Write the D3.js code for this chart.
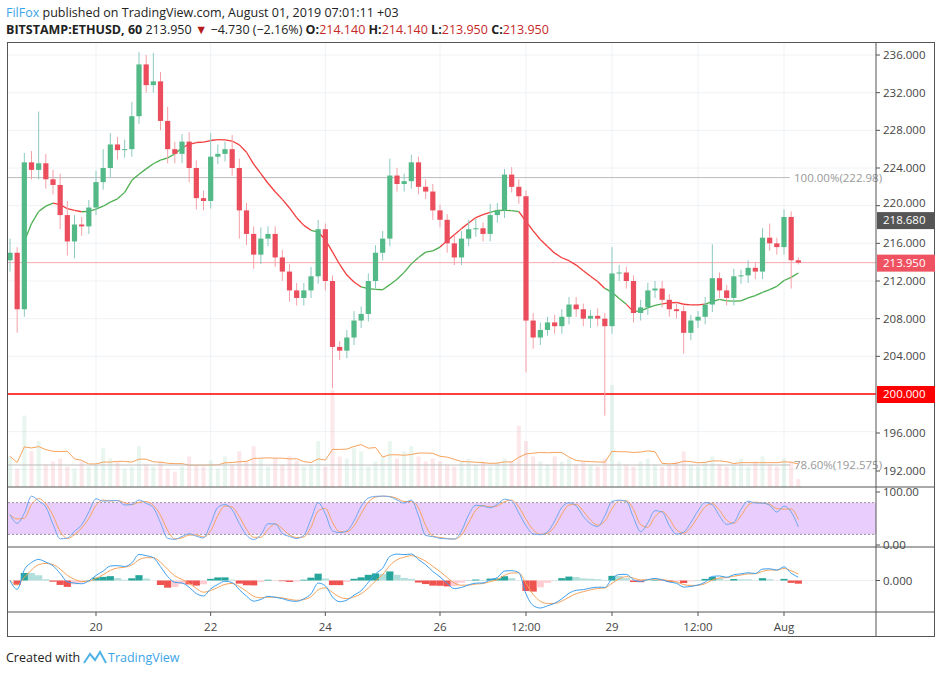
<!DOCTYPE html>
<html><head><meta charset="utf-8">
<script src="https://cdn.jsdelivr.net/npm/d3@7"></script>
<style>body{margin:0;background:#fff;font-family:"Open Sans","Liberation Sans",sans-serif}</style>
</head><body><svg id="c" width="939" height="675"></svg>
<script>
// ---- data (3-hour candles) ----
const startTime = "2019-07-18T12:00:00";
const closes = [215.0,209.0,224.6,223.8,224.5,222.8,222.2,219.0,216.2,218.0,217.8,219.8,222.5,224.0,226.5,225.9,226.0,229.5,235.0,232.8,233.2,229.0,226.0,225.5,226.8,224.0,220.8,220.5,225.2,225.5,226.0,224.0,219.5,217.0,214.8,216.5,217.0,214.5,213.0,211.0,210.2,211.0,212.5,217.5,212.0,205.0,204.6,206.0,207.8,208.5,212.0,215.0,216.5,223.2,222.3,222.6,224.6,222.0,221.5,219.5,218.5,216.0,214.5,216.5,217.5,217.6,217.0,219.0,219.5,223.3,222.0,221.0,207.8,206.0,206.8,207.6,207.2,208.2,209.5,209.0,208.0,208.3,208.0,207.2,212.8,212.9,212.0,208.6,209.2,211.0,211.2,210.0,209.0,208.8,206.5,207.8,208.2,209.5,212.3,211.0,210.2,212.5,212.6,213.4,213.0,216.6,216.0,215.6,218.8,214.2,213.95];
const firstOpen = 214.2;
const wickUp = [1.5,0.6,1.0,1.2,5.5,1.0,1.0,1.2,1.5,1.0,0.8,0.8,1.2,2.0,1.2,0.8,1.0,1.5,1.3,1.0,3.0,1.0,1.5,0.8,0.8,1.0,0.8,0.8,2.5,1.0,0.8,1.5,1.0,0.8,0.8,1.2,0.8,0.8,0.8,0.8,0.8,0.8,1.0,1.0,0.6,0.6,0.6,0.8,1.0,0.8,0.8,0.8,0.8,1.8,0.8,0.8,0.8,0.6,0.8,0.8,0.6,0.6,0.8,0.8,1.0,1.0,0.6,1.2,0.8,0.6,0.8,0.8,0.6,0.8,0.8,0.6,0.8,0.8,0.8,0.8,0.6,0.6,0.8,0.6,2.8,0.8,0.6,0.6,0.8,0.8,0.8,0.8,0.6,0.6,0.6,0.6,0.6,0.8,3.6,0.6,0.6,0.8,0.6,0.8,0.6,1.0,1.5,0.6,0.8,0.6,0.3];
const wickDn = [1.2,2.5,0.8,1.0,1.0,1.0,1.0,1.5,1.5,1.8,1.0,0.8,0.8,0.8,1.0,1.0,0.8,0.8,0.8,0.8,0.8,1.0,1.5,1.0,1.0,1.5,1.2,1.0,0.8,0.8,0.8,0.8,3.0,1.2,1.5,1.0,0.8,1.0,1.0,1.2,0.8,0.8,0.8,0.8,1.0,4.4,1.0,0.8,0.8,0.8,0.8,0.8,0.8,0.8,0.8,0.8,0.8,0.8,0.8,1.0,0.8,1.0,0.8,0.8,0.8,0.8,0.8,0.8,0.8,0.8,0.6,0.8,5.5,1.2,0.8,0.6,0.8,0.8,0.8,0.8,0.8,1.0,0.8,9.5,0.8,0.8,0.8,1.0,0.8,0.8,0.8,0.8,0.8,0.8,2.2,0.8,0.8,0.8,0.8,0.8,0.8,0.8,0.8,0.8,0.8,0.8,0.8,0.8,0.8,3.0,0.2];
const volumes = [30,18,70,35,45,22,25,28,20,18,25,20,22,38,28,25,18,20,40,22,20,25,18,15,20,30,22,20,26,18,30,22,35,25,40,28,20,28,22,30,26,20,22,45,20,95,30,28,38,35,20,25,30,45,28,35,40,30,25,28,25,22,20,25,28,22,25,20,24,28,25,60,45,30,25,22,30,25,28,22,25,22,20,28,100,25,22,20,25,28,22,20,22,25,35,22,20,25,30,22,20,22,28,20,25,30,22,20,28,25,8];
const priceTicks = [192,196,200,204,208,212,216,220,224,228,232,236];
const timeTicks = [["2019-07-20T00:00:00","20"],["2019-07-22T00:00:00","22"],["2019-07-24T00:00:00","24"],["2019-07-26T00:00:00","26"],["2019-07-27T12:00:00","12:00"],["2019-07-29T00:00:00","29"],["2019-07-30T12:00:00","12:00"],["2019-08-01T00:00:00","Aug"]];
const lastPrice = 213.95, prevHighLabel = 218.68, supportLevel = 200.0;
const fib100 = 222.98, fib786 = 192.575;

// ---- derived ----
const t0 = new Date(startTime);
const opens = closes.map((c,i)=> i===0 ? firstOpen : closes[i-1]);
const candles = closes.map((c,i)=>({t:new Date(+t0+i*3*3600e3),o:opens[i],c:c,h:Math.max(opens[i],c)+wickUp[i],l:Math.min(opens[i],c)-wickDn[i],v:volumes[i]}));

const svg = d3.select("#c");
const L=8,R=876,T=43,B=637;
const x = d3.scaleTime().domain([new Date("2019-07-20T00:00:00"),new Date("2019-08-01T00:00:00")]).range([96,784]);
const y = d3.scaleLinear().domain([200,236]).range([394,55]);
const yv = d3.scaleLinear().domain([0,d3.max(volumes)]).range([487,385]);
const ys = d3.scaleLinear().domain([0,100]).range([545,492]);

svg.append("rect").attr("width",939).attr("height",675).attr("fill","#fff");
const g = svg.append("g");
priceTicks.forEach(p=>g.append("line").attr("x1",L).attr("x2",R).attr("y1",y(p)).attr("y2",y(p)).attr("stroke","#eef2f5"));
timeTicks.forEach(d=>{const xx=x(new Date(d[0]));g.append("line").attr("x1",xx).attr("x2",xx).attr("y1",T).attr("y2",612).attr("stroke","#eef2f5");});

// volume
const up = d=>d.c>=d.o;
svg.append("g").selectAll("rect").data(candles).join("rect")
 .attr("x",d=>x(d.t)-2).attr("width",4).attr("y",d=>yv(d.v)).attr("height",d=>487-yv(d.v))
 .attr("fill",d=>up(d)?"#53b987":"#eb4d5c").attr("opacity",0.13);
const vma = candles.map((d,i)=>({t:d.t,v:d3.mean(volumes.slice(Math.max(0,i-6),i+1))}));
svg.append("path").datum(vma).attr("fill","none").attr("stroke","#f7a35c").attr("stroke-width",1)
 .attr("d",d3.line().x(d=>x(d.t)).y(d=>yv(d.v)));

// fib lines
svg.append("line").attr("x1",L).attr("x2",790).attr("y1",y(fib100)).attr("y2",y(fib100)).attr("stroke","#bbb");
svg.append("text").attr("x",794).attr("y",y(fib100)+4).attr("font-size",11.5).attr("fill","#999").text("100.00%("+fib100.toFixed(2)+")");
const yf786 = 465;
svg.append("line").attr("x1",L).attr("x2",790).attr("y1",yf786).attr("y2",yf786).attr("stroke","#bbb");
svg.append("text").attr("x",794).attr("y",yf786+4).attr("font-size",11.5).attr("fill","#999").text("78.60%("+fib786.toFixed(3)+")");

// levels
svg.append("line").attr("x1",L).attr("x2",R).attr("y1",y(lastPrice)).attr("y2",y(lastPrice)).attr("stroke","#f7a8ae");
svg.append("line").attr("x1",L).attr("x2",R).attr("y1",y(supportLevel)).attr("y2",y(supportLevel)).attr("stroke","#ff0000").attr("stroke-width",1.5);

// moving average (colored by price relation)
const N=16;
const ma = candles.map((d,i)=>({t:d.t,c:d.c,m:d3.mean(closes.slice(Math.max(0,i-N+1),i+1))})).slice(2);
for(let i=1;i<ma.length;i++){
  svg.append("line").attr("x1",x(ma[i-1].t)).attr("y1",y(ma[i-1].m)).attr("x2",x(ma[i].t)).attr("y2",y(ma[i].m))
   .attr("stroke",ma[i].c>=ma[i].m?"#4caf50":"#f23d3d").attr("stroke-width",1.3);
}

// candles
const cg = svg.append("g");
cg.selectAll("line").data(candles).join("line").attr("x1",d=>x(d.t)).attr("x2",d=>x(d.t))
 .attr("y1",d=>y(d.h)).attr("y2",d=>y(d.l)).attr("stroke",d=>up(d)?"#8cc9c0":"#f4a0a8");
cg.selectAll("rect").data(candles).join("rect").attr("x",d=>x(d.t)-2.6).attr("width",5.2)
 .attr("y",d=>y(Math.max(d.o,d.c))).attr("height",d=>Math.max(1,Math.abs(y(d.o)-y(d.c))))
 .attr("fill",d=>up(d)?"#53b987":"#eb4d5c");

// stochastic
svg.append("rect").attr("x",L).attr("width",R-L).attr("y",ys(80)).attr("height",ys(20)-ys(80)).attr("fill","#e9cdfc");
[80,20].forEach(v=>svg.append("line").attr("x1",L).attr("x2",R).attr("y1",ys(v)).attr("y2",ys(v)).attr("stroke","#999").attr("stroke-dasharray","2,2"));
const P=4;
const rawK = candles.map((d,i)=>{const s=candles.slice(Math.max(0,i-P+1),i+1);const hh=d3.max(s,e=>e.h),ll=d3.min(s,e=>e.l);return (d.c-ll)/(hh-ll)*100;});
const K = rawK.map((v,i)=>d3.mean(rawK.slice(Math.max(0,i-1),i+1)));
const D = K.map((v,i)=>d3.mean(K.slice(Math.max(0,i-1),i+1)));
const sl = d3.line().x((v,i)=>x(candles[i].t)).y(v=>ys(v)).curve(d3.curveMonotoneX);
svg.append("path").datum(D).attr("fill","none").attr("stroke","#f7a35c").attr("stroke-width",1).attr("d",sl);
svg.append("path").datum(K).attr("fill","none").attr("stroke","#6ea8ef").attr("stroke-width",1).attr("d",sl);

// MACD
const ema=(arr,n)=>{const k=2/(n+1);let e=arr[0];return arr.map(v=>e=v*k+e*(1-k));};
const macd = ema(closes,4).map((v,i)=>v-ema(closes,9)[i]);
const sig = ema(macd,3);
const hist = macd.map((v,i)=>v-sig[i]);
const ext = d3.max(macd.map(Math.abs));
const ym = d3.scaleLinear().domain([-ext,ext]).range([608,553]);
svg.append("line").attr("x1",L).attr("x2",R).attr("y1",ym(0)).attr("y2",ym(0)).attr("stroke","#eee");
svg.append("g").selectAll("rect").data(hist).join("rect").attr("x",(v,i)=>x(candles[i].t)-3.6).attr("width",7.2)
 .attr("y",v=>Math.min(ym(v),ym(0))).attr("height",v=>Math.abs(ym(v)-ym(0)))
 .attr("fill",(v,i)=>{const p=i?hist[i-1]:0;return v>=0?(v>=p?"#26a69a":"#b2dfdb"):(v<p?"#ef5350":"#ffcdd2");});
const ml = d3.line().x((v,i)=>x(candles[i].t)).y(v=>ym(v)).curve(d3.curveMonotoneX);
svg.append("path").datum(sig).attr("fill","none").attr("stroke","#f7a35c").attr("stroke-width",1).attr("d",ml);
svg.append("path").datum(macd).attr("fill","none").attr("stroke","#3c9fef").attr("stroke-width",1).attr("d",ml);

// frames
const fr = svg.append("g").attr("stroke","#555").attr("fill","none");
fr.append("rect").attr("x",L-0.5).attr("y",T-0.5).attr("width",935-L).attr("height",B-T);
[[L,R+59,487],[L,R+59,547],[L,R+59,612]].forEach(a=>fr.append("line").attr("x1",a[0]).attr("x2",a[1]).attr("y1",a[2]).attr("y2",a[2]));
fr.append("line").attr("x1",R).attr("x2",R).attr("y1",T).attr("y2",B);

// axes
const ax = svg.append("g").attr("font-size",11.5).attr("fill","#444");
priceTicks.forEach(p=>{const yy= p<200? (p===192?471:433):y(p);
  if(p===200)return;
  ax.append("line").attr("x1",R).attr("x2",R+4).attr("y1",yy).attr("y2",yy).attr("stroke","#555");
  ax.append("text").attr("x",R+7).attr("y",yy+(p===220?1:4)).text(p.toFixed(3));});
[[100,"100.00"],[0,"0.00"]].forEach(a=>{ax.append("line").attr("x1",R).attr("x2",R+4).attr("y1",ys(a[0])).attr("y2",ys(a[0])).attr("stroke","#555");
  ax.append("text").attr("x",R+7).attr("y",ys(a[0])+4).text(a[1]);});
ax.append("line").attr("x1",R).attr("x2",R+4).attr("y1",ym(0)).attr("y2",ym(0)).attr("stroke","#555");
ax.append("text").attr("x",R+7).attr("y",ym(0)+4).text("0.000");
timeTicks.forEach(d=>{const xx=x(new Date(d[0]));
  ax.append("line").attr("x1",xx).attr("x2",xx).attr("y1",612).attr("y2",616).attr("stroke","#555");
  ax.append("text").attr("x",xx).attr("y",631).attr("text-anchor","middle").text(d[1]);});
const badge=(v,col,dy)=>{const yy=y(v)+dy;svg.append("rect").attr("x",R+1).attr("y",yy-8).attr("width",58).attr("height",17).attr("fill",col);
  svg.append("text").attr("x",R+7).attr("y",yy+4).attr("font-size",11.5).attr("fill","#fff").text(v.toFixed(3));};
badge(prevHighLabel,"#555",2);badge(lastPrice,"#ef5361",0);badge(supportLevel,"#ff0000",0);

// header
const h = svg.append("g").attr("font-size",12.5).attr("fill","#222");
const t1=h.append("text").attr("x",6).attr("y",17);
t1.append("tspan").attr("fill","#3ba4e8").text("FilFox");
t1.append("tspan").text(" published on TradingView.com, August 01, 2019 07:01:11 +03");
const t2=h.append("text").attr("x",6).attr("y",34);
t2.append("tspan").attr("font-weight","bold").text("BITSTAMP:ETHUSD, 60");
t2.append("tspan").text(" 213.950 ");
t2.append("tspan").attr("fill","#b71c1c").text("▼");
t2.append("tspan").text(" −4.730 (−2.16%) ");
[["O:","214.140"],["H:","214.140"],["L:","213.950"],["C:","213.950"]].forEach(a=>{
  t2.append("tspan").attr("font-weight","bold").text(a[0]);t2.append("tspan").attr("fill","#c62828").text(a[1]+" ");});
const f=svg.append("text").attr("x",6).attr("y",662).attr("font-size",12.5).attr("fill","#222");
f.append("tspan").text("Created with ");
svg.append("path").attr("d","M84,663 l6,-9 l5,6 l5,-8 l6,11").attr("fill","none").attr("stroke","#4fb3e8").attr("stroke-width",2);
svg.append("text").attr("x",108).attr("y",662).attr("font-size",12.5).attr("fill","#3ba4e8").text("TradingView");
</script></body></html>
